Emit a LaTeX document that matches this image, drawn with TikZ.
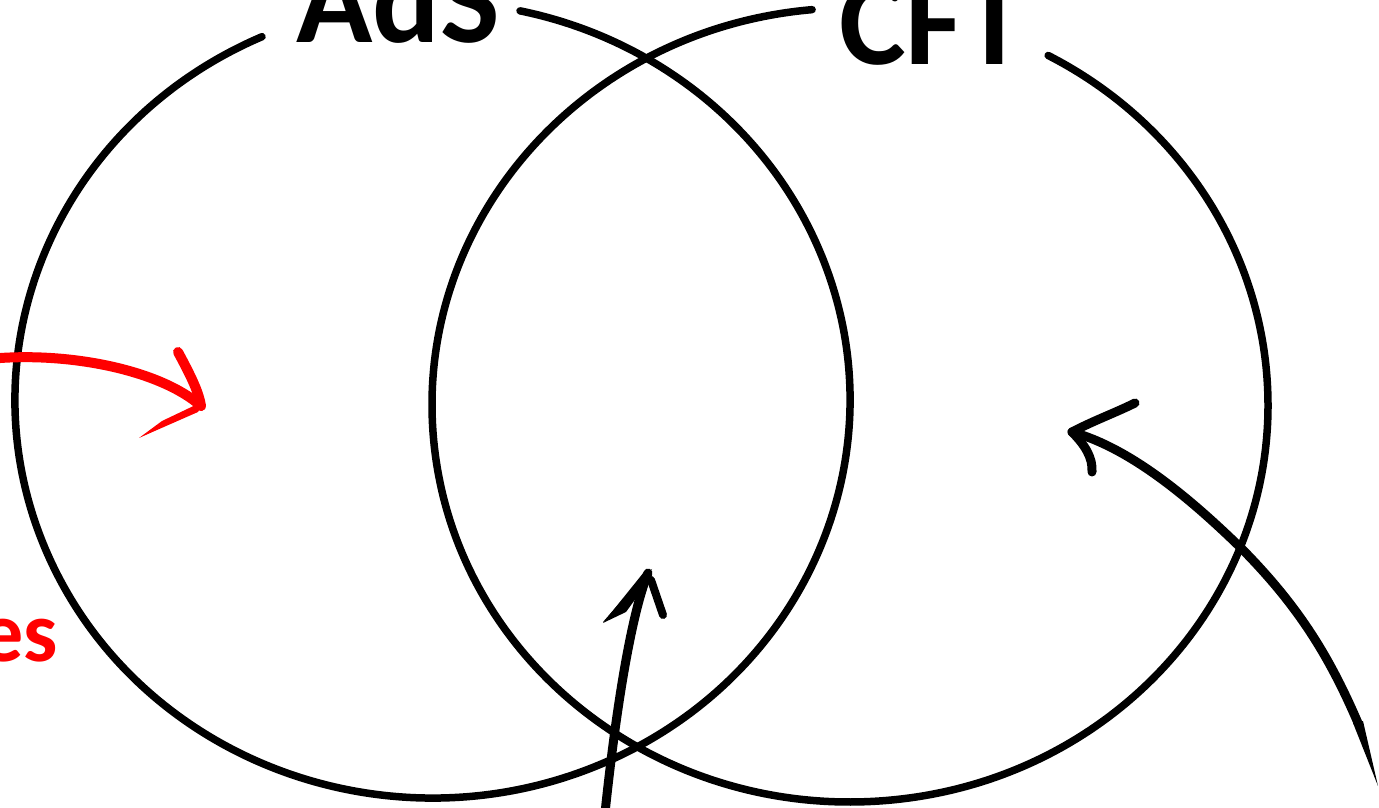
\documentclass[tikz,border=0pt]{standalone}
\usepackage{fontspec}
\setmainfont{Carlito}
\begin{document}
\begin{tikzpicture}[x=1pt,y=1pt,
  ring/.style={line width=7.5pt,line cap=round},
  hand/.style={line width=9pt,line cap=round,line join=round},
  redhand/.style={hand,red,line width=10pt},
  title/.style={font=\bfseries\fontsize{126}{126}\selectfont,inner sep=0pt,anchor=base west},
  redlabel/.style={font=\bfseries\fontsize{86}{86}\selectfont,text=red,inner sep=0pt,anchor=base east}]
\useasboundingbox (0,0) rectangle (1379,808);
% circles
\coordinate (lc) at (432.5,408);
\coordinate (rc) at (850,403);
\draw[ring] (lc) ++(114.1:417.5 and 398) arc[start angle=114.1,end angle=437.9,x radius=417.5,y radius=398];
\draw[ring] (rc) ++(95.2:418 and 397) arc[start angle=95.2,end angle=421.7,x radius=418,y radius=397];
% labels
\node[title] (ads) at (296,765) {AdS};
\node[title] (cft) at (839,743) {CFT};
\node[redlabel] (es) at (58,146) {es};
% red arrow
\coordinate (r0) at (-6,449.5);
\coordinate (rt) at (201,402);
\coordinate (rb1) at (178,456);
\draw[redhand] (r0) .. controls (70,456) and (160,438) .. (rt);
\draw[redhand] (rb1) .. controls (192,430) and (199,415) .. (rt);
\fill[red] (204,407) -- (162,387) -- (139,370) -- (157,378) -- (198,396) -- cycle;
% middle arrow
\coordinate (m0) at (605,-5);
\coordinate (mt) at (648,235);
\coordinate (mb2) at (663,193);
\draw[hand] (m0) .. controls (615,90) and (630,190) .. (mt);
\draw[hand,line width=8pt] (651,228) -- (mb2);
\fill (652,239) -- (643,232) -- (603,186) -- (609,190) -- (645,228) -- cycle;
\fill (644,236) -- (652,232) -- (626,196) -- (603,185) -- cycle;
% right arrow
\coordinate (q0) at (1358,85);
\coordinate (qt) at (1072,376);
\coordinate (qb1) at (1135,405);
\coordinate (qb2) at (1092,336);
\draw[hand] (q0) .. controls (1330,150) and (1300,200) .. (1243,258) .. controls (1190,310) and (1130,360) .. (qt);
\fill (1353,85) -- (1378,22) -- (1363,87) -- cycle;
\draw[hand] (qt) .. controls (1095,388) and (1115,395) .. (qb1);
\draw[hand] (qt) .. controls (1085,363) and (1093,350) .. (qb2);
\end{tikzpicture}
\end{document}
